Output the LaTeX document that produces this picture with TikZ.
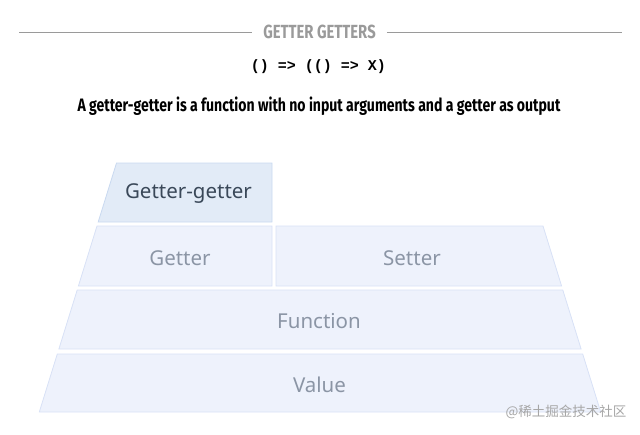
\documentclass[tikz,border=0pt]{standalone}
\usepackage{fontspec}
\setmainfont{Noto Sans}
\newfontfamily\headfont[FakeStretch=0.78]{Fira Sans}
\newfontfamily\codefont{Liberation Mono}
\newfontfamily\cjkfont{Noto Sans CJK SC}
\definecolor{ggfill}{HTML}{E2EBF7}
\definecolor{ggline}{HTML}{C9D9F0}
\definecolor{lfill}{HTML}{EEF2FC}
\definecolor{lline}{HTML}{D8E1F6}
\definecolor{ggtext}{HTML}{3A4859}
\definecolor{ltext}{HTML}{8B95A5}
\definecolor{headgray}{HTML}{9A9A9A}
\tikzset{
  ggbox/.style={fill=ggfill,draw=ggline,line width=0.8pt},
  layerbox/.style={fill=lfill,draw=lline,line width=0.8pt},
  ggtxt/.style={text=ggtext,font=\fontsize{20.5}{24}\selectfont,inner sep=0pt},
  laytxt/.style={text=ltext,font=\fontsize{20.5}{24}\selectfont,inner sep=0pt},
}
\begin{document}
\begin{tikzpicture}[x=1pt,y=-1pt]
\useasboundingbox (0,0) rectangle (640,434);
% title
\node[inner sep=0pt,text=headgray,font=\headfont\bfseries\fontsize{19}{21}\selectfont] (head) at (319.5,32) {GETTER GETTERS};
\coordinate (hl1) at (19,32);
\coordinate (hl2) at (622,32);
\draw[headgray,line width=0.7pt] (hl1) -- ([xshift=-11pt]head.west);
\draw[headgray,line width=0.7pt] ([xshift=11pt]head.east) -- (hl2);
\node[inner sep=0pt,font=\codefont\bfseries\fontsize{15}{16}\selectfont] (code) at (318.5,67) {() => (() => X)};
\node[inner sep=0pt,font=\headfont\bfseries\fontsize{18}{20}\selectfont] (sub) at (319,106) {A getter-getter is a function with no input arguments and a getter as output};
% layers
\path[ggbox] (116.5,163) -- (272,163) -- (272,222) -- (98.2,222) -- cycle;
\path[layerbox] (97,226) -- (272,226) -- (272,286) -- (78.4,286) -- cycle;
\path[layerbox] (276,226) -- (543,226) -- (561.6,286) -- (276,286) -- cycle;
\path[layerbox] (77.2,290) -- (562.8,290) -- (581.1,349) -- (58.9,349) -- cycle;
\path[layerbox] (57.3,354) -- (582.7,354) -- (600.7,412) -- (39.3,412) -- cycle;
\node[ggtxt] (gg) at (188.5,194) {Getter-getter};
\node[laytxt] (getter) at (180,258) {Getter};
\node[laytxt] (setter) at (412,258) {Setter};
\node[laytxt] (function) at (319,321) {Function};
\node[laytxt] (value) at (319.5,385) {Value};
\node[inner sep=0pt,text=black!35,font=\cjkfont\fontsize{13.5}{15}\selectfont] (wm) at (566,412) {@稀土掘金技术社区};
\end{tikzpicture}
\end{document}
